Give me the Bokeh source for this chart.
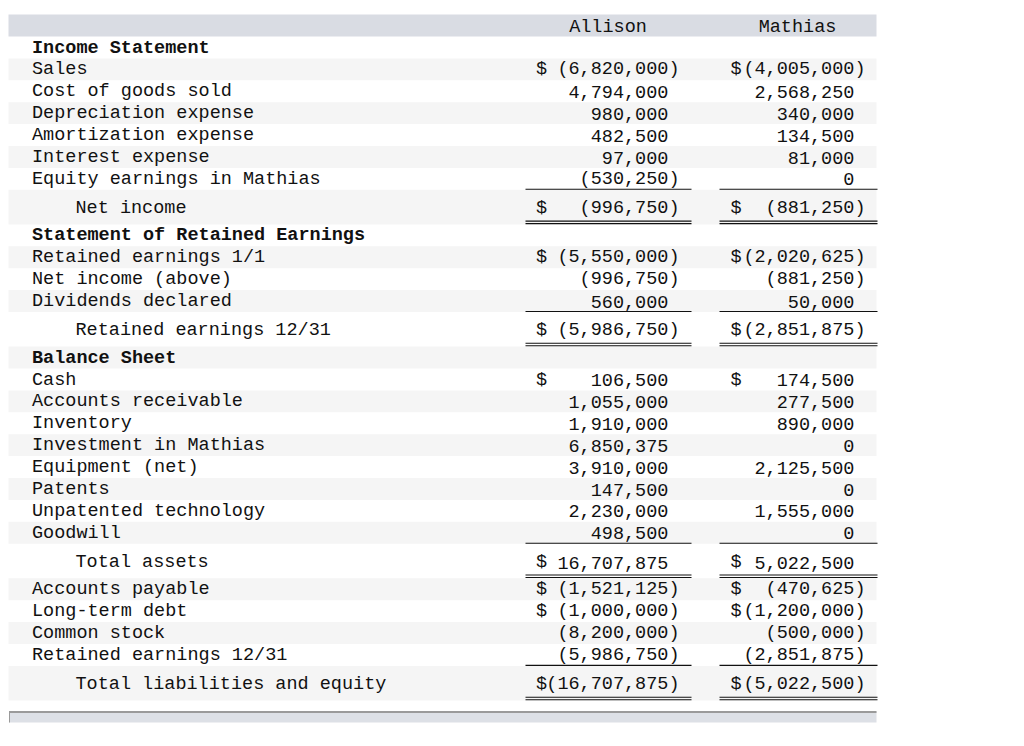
from bokeh.plotting import figure
from bokeh.models import ColumnDataSource, Range1d
from bokeh.core.properties import value
from bokeh.embed import file_html
from bokeh.resources import INLINE

# ---------------- data ----------------
columns = ["Allison", "Mathias"]

labels = [
    "Income Statement", "Sales", "Cost of goods sold", "Depreciation expense",
    "Amortization expense", "Interest expense", "Equity earnings in Mathias",
    "Net income",
    "Statement of Retained Earnings", "Retained earnings 1/1", "Net income (above)",
    "Dividends declared", "Retained earnings 12/31",
    "Balance Sheet", "Cash", "Accounts receivable", "Inventory", "Investment in Mathias",
    "Equipment (net)", "Patents", "Unpatented technology", "Goodwill",
    "Total assets",
    "Accounts payable", "Long-term debt", "Common stock", "Retained earnings 12/31",
    "Total liabilities and equity",
]
row_kind = [
    "section", "item", "item", "item", "item", "item", "item", "total",
    "section", "item", "item", "item", "total",
    "section", "item", "item", "item", "item", "item", "item", "item", "item", "total",
    "item", "item", "item", "item", "total",
]
allison = [
    None, -6820000, 4794000, 980000, 482500, 97000, -530250, -996750,
    None, -5550000, -996750, 560000, -5986750,
    None, 106500, 1055000, 1910000, 6850375, 3910000, 147500, 2230000, 498500, 16707875,
    -1521125, -1000000, -8200000, -5986750, -16707875,
]
mathias = [
    None, -4005000, 2568250, 340000, 134500, 81000, 0, -881250,
    None, -2020625, -881250, 50000, -2851875,
    None, 174500, 277500, 890000, 0, 2125500, 0, 1555000, 0, 5022500,
    -470625, -1200000, -500000, -2851875, -5022500,
]
dollar = [
    False, True, False, False, False, False, False, True,
    False, True, False, False, True,
    False, True, False, False, False, False, False, False, False, True,
    True, True, False, False, True,
]

# ---------------- layout / style ----------------
FONT = value("Liberation Mono")
FS = "18.5px"
CW = 11.1
TXT = "#111111"
ITEM_H, TOTAL_H = 21.9, 34.6
TABLE_L, TABLE_R = 8, 876
col_dollar_x = [535.5, 730.0]
col_right_x = [679.0, 865.0]
col_line = [(525, 691), (719, 877)]
col_head_x = [607.5, 797]

W, H = 1016, 738
p = figure(width=W, height=H, x_range=Range1d(0, W), y_range=Range1d(H, 0),
           output_backend="svg", toolbar_location=None,
           x_axis_location=None, y_axis_location=None, min_border=0)
p.grid.visible = False
p.outline_line_color = None
p.background_fill_color = "white"
p.border_fill_color = "white"

tops = []
y = 36.0
for k in row_kind:
    tops.append(y)
    y += TOTAL_H if k == "total" else ITEM_H
heights = [TOTAL_H if k == "total" else ITEM_H for k in row_kind]

# header band
p.quad(left=[TABLE_L], right=[TABLE_R], top=[14], bottom=[36],
       fill_color="#d9dce3", line_color=None)
p.text(x=col_head_x, y=[26.5, 26.5], text=columns, text_font=FONT, text_font_size=FS,
       text_align="center", text_baseline="middle", text_color=TXT)

# alternating row backgrounds
g_top, g_bot = [], []
for i, (t, h) in enumerate(zip(tops, heights)):
    if i % 2 == 1:
        g_top.append(t)
        g_bot.append(t + h)
p.quad(left=TABLE_L, right=TABLE_R, top=g_top, bottom=g_bot,
       fill_color="#f5f5f5", line_color=None)

def mid(i):
    return tops[i] + (18.8 if row_kind[i] == "total" else 11.5)

# labels
norm = dict(x=[], y=[], text=[])
bold = dict(x=[], y=[], text=[])
for i, lab in enumerate(labels):
    d = bold if row_kind[i] == "section" else norm
    d["x"].append(75 if row_kind[i] == "total" else 31.5)
    d["y"].append(mid(i))
    d["text"].append(lab)
p.text(x="x", y="y", text="text", source=ColumnDataSource(norm), text_font=FONT,
       text_font_size=FS, text_baseline="middle", text_align="left", text_color=TXT)
p.text(x="x", y="y", text="text", source=ColumnDataSource(bold), text_font=FONT,
       text_font_size=FS, text_font_style="bold", text_baseline="middle",
       text_align="left", text_color=TXT)

def fmt(v):
    s = "{:,}".format(abs(v))
    return "(" + s + ")" if v < 0 else s

num = dict(x=[], y=[], text=[])
dol = dict(x=[], y=[], text=[])
seg = dict(x0=[], x1=[], y0=[], y1=[])
for c, vals in enumerate([allison, mathias]):
    for i, v in enumerate(vals):
        if v is None:
            continue
        num["x"].append(col_right_x[c] if v < 0 else col_right_x[c] - CW)
        num["y"].append(mid(i))
        num["text"].append(fmt(v))
        if dollar[i]:
            dol["x"].append(col_dollar_x[c])
            dol["y"].append(mid(i))
            dol["text"].append("$")
        if row_kind[i] == "total":
            x0, x1 = col_line[c]
            for yy in (tops[i] - 0.5, tops[i] + 31.3, tops[i] + 33.8):
                seg["x0"].append(x0); seg["x1"].append(x1)
                seg["y0"].append(yy); seg["y1"].append(yy)

p.text(x="x", y="y", text="text", source=ColumnDataSource(num), text_font=FONT,
       text_font_size=FS, text_baseline="middle", text_align="right", text_color=TXT)
p.text(x="x", y="y", text="text", source=ColumnDataSource(dol), text_font=FONT,
       text_font_size=FS, text_baseline="middle", text_align="left", text_color=TXT)
p.segment(x0="x0", x1="x1", y0="y0", y1="y1", source=ColumnDataSource(seg),
          line_color="#111111", line_width=1.1)

# bottom band
p.quad(left=[8.5], right=[TABLE_R], top=[711], bottom=[722],
       fill_color="#dde0e6", line_color=None)
p.segment(x0=[8.5], x1=[TABLE_R], y0=[711.5], y1=[711.5], line_color="#9a9a9a", line_width=2)
p.segment(x0=[9], x1=[9], y0=[711], y1=[722], line_color="#9a9a9a", line_width=1)

open("out.html", "w").write(file_html(p, INLINE))
